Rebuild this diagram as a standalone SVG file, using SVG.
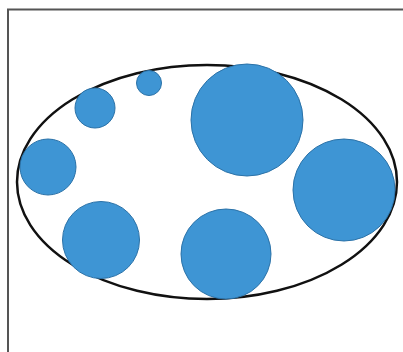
<svg xmlns="http://www.w3.org/2000/svg" width="403" height="352" viewBox="0 0 403 352">
<style>
.c{fill:#3e95d4;stroke:#2b72a8;stroke-width:1}
</style>
<rect width="403" height="352" fill="#fff"/>
<path d="M8,352 V9.5 H403" fill="none" stroke="#555" stroke-width="2"/>
<g id="ellipse"><ellipse cx="207" cy="182" rx="190" ry="117" fill="none" stroke="#111" stroke-width="2.5"/></g>
<g id="c1"><circle class="c" cx="149" cy="83" r="12.5"/></g>
<g id="c2"><circle class="c" cx="95" cy="108" r="20"/></g>
<g id="c3"><circle class="c" cx="48" cy="167" r="28"/></g>
<g id="c4"><circle class="c" cx="247" cy="120" r="56"/></g>
<g id="c5"><circle class="c" cx="344" cy="190" r="51"/></g>
<g id="c6"><circle class="c" cx="101" cy="240" r="38.5"/></g>
<g id="c7"><circle class="c" cx="226" cy="254" r="45"/></g>
</svg>
